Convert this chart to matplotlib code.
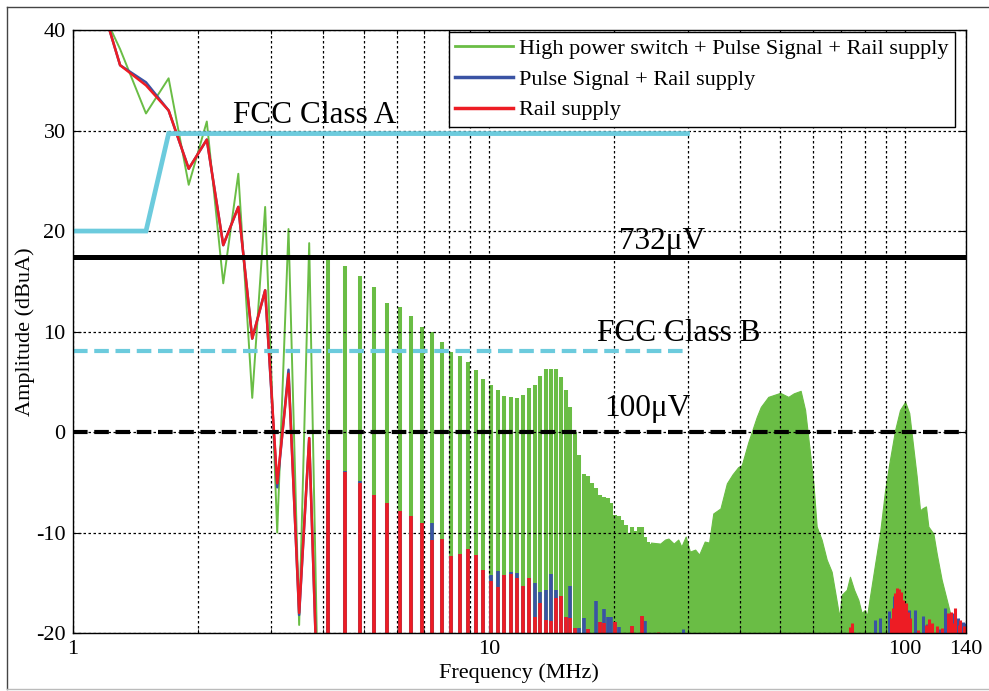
import matplotlib.pyplot as plt
from matplotlib.lines import Line2D
from matplotlib.ticker import NullFormatter

plt.rcParams['font.family'] = ['Liberation Serif', 'DejaVu Serif']
plt.rcParams['axes.unicode_minus'] = False

# --- data (MHz, dBuA) ---
# low band trace, sampled every 0.2 MHz
low_freq = [1.1, 1.3, 1.5, 1.7, 1.9, 2.1, 2.3, 2.5, 2.7, 2.9, 3.1, 3.3, 3.5, 3.7, 3.9]
green_low = [44.5, 38.1, 31.7, 35.2, 24.6, 30.9, 14.8, 25.7, 3.4, 22.4, -10.0, 20.2, -19.2, 18.8, -30.0]
blue_low = [46.5, 36.5, 34.8, 32.0, 26.2, 29.1, 18.6, 22.4, 9.3, 14.1, -5.5, 6.2, -18.2, -0.6, -30.0]
red_low = [46.5, 36.5, 34.5, 32.0, 26.2, 29.1, 18.6, 22.4, 9.3, 14.1, -5.1, 5.8, -18.0, -0.6, -30.0]

# harmonic lines 4.1 .. 24.5 MHz
harm_freq = [4.1, 4.5, 4.9, 5.3, 5.7, 6.1, 6.5, 6.9, 7.3, 7.7, 8.1, 8.5, 8.9, 9.3, 9.7,
             10.1, 10.5, 10.9, 11.3, 11.7, 12.1, 12.5, 12.9, 13.3, 13.7, 14.1, 14.5, 14.9,
             15.3, 15.7, 16.1, 16.5, 16.9, 17.3, 17.7, 18.1, 18.5, 18.9, 19.3, 19.7, 20.1,
             20.5, 20.9, 21.3, 21.7, 22.1, 22.5, 22.9, 23.3, 23.7, 24.1, 24.5]
green_harm = [17.1, 16.5, 15.5, 14.4, 12.8, 12.4, 11.5, 10.5, 10.0, 9.0, 8.0, 7.6, 7.0, 6.2, 5.3,
              4.7, 4.2, 3.6, 3.5, 3.4, 3.7, 4.4, 4.7, 5.6, 6.3, 6.3, 6.3, 5.5,
              4.2, 2.5, 0.0, -2.3, -4.2, -4.4, -5.1, -5.6, -6.3, -6.5, -6.6, -7.1, -8.3,
              -8.4, -8.8, -9.3, -10.0, -9.4, -9.8, -9.4, -9.4, -10.4, -10.9, -11.1]
blue_harm = [-2.8, -3.9, -4.9, -6.3, -7.1, -7.9, -8.4, -9.1, -9.1, -10.6, -12.3, -12.1, -11.6, -12.2, -13.7,
             -14.2, -13.8, -14.2, -13.9, -14.0, -15.3, -14.5, -15.0, -15.9, -15.7, -14.1, -15.7, -16.3,
             -18.4, -15.3, -19.5, -19.5, -18.5, -19.6, -25, -16.8, -18.9, -17.6, -18.4, -18.4, -18.9,
             -19.4, -25, -25, -25, -19.3, -25, -25, -18.3, -18.8, -25, -25]
red_harm = [-2.8, -4.0, -5.1, -6.3, -7.1, -7.9, -8.4, -9.1, -10.7, -10.6, -12.3, -12.1, -11.6, -12.2, -13.7,
            -14.8, -15.4, -14.2, -14.1, -14.5, -15.3, -14.5, -18.4, -17.0, -18.7, -18.8, -16.5, -16.3,
            -18.4, -18.5, -19.5, -25, -25, -19.6, -25, -25, -18.9, -19.0, -25, -25, -18.9,
            -25, -25, -25, -25, -19.3, -25, -25, -18.3, -25, -25, -25]

# broadband envelope of the green trace above 24.5 MHz
env_freq = [24.5, 25.8, 26.5, 27.0, 27.8, 28.5, 29.0, 29.7, 30.4, 31.3, 32.0, 33.0, 33.8, 34.6,
            36.0, 37.3, 38.5, 39.7, 40.5, 42.0, 44.0, 45.0, 46.9, 50.1, 52.4, 54.0, 56.1, 57.5,
            58.5, 60.2, 61.3, 63.0, 64.8, 66.6, 68.2, 69.5, 70.4, 72.4, 73.7, 75.4, 77.2, 78.6,
            80.1, 81.0, 82.3, 84.7, 87.0, 89.5, 91.9, 94.6, 97.2, 100.0, 102.3, 104.6, 106.6,
            108.6, 110.0, 112.2, 113.7, 116.9, 119.1, 122.4, 125.9, 128.2, 131.8, 138.0, 140.0]
green_env = [-11.0, -11.1, -10.7, -10.6, -11.1, -10.7, -11.4, -10.4, -11.9, -11.7, -12.2, -10.9, -11.0, -8.1,
             -7.6, -5.1, -4.2, -3.5, -3.3, -1.0, 1.5, 2.5, 3.5, 3.9, 3.5, 3.85, 4.1, 2.2,
             -0.5, -5.1, -9.4, -10.7, -12.7, -13.9, -16.4, -18.4, -16.2, -15.7, -14.4, -15.7, -16.7, -18.0,
             -17.7, -18.3, -16.4, -13.1, -10.1, -5.8, -2.8, 0.2, 2.2, 3.0, 1.9, -1.5, -4.4,
             -7.8, -7.6, -7.4, -9.4, -10.1, -12.1, -14.7, -16.7, -18.0, -19.0, -19.9, -20.0]

# sparse red / blue lines in the upper band
blue_hi_freq = [29.2, 84.7, 86.8, 91.5, 94.0, 102.3, 105.4, 110.5, 113.0, 121.0, 125.0, 129.6, 133.9, 137.6, 139.5]
blue_hi = [-19.6, -18.7, -18.5, -17.8, -16.3, -17.7, -17.7, -18.3, -19.1, -19.6, -17.5, -18.0, -18.5, -18.9, -19.0]
red_hi_freq = [25.5, 73.6, 74.4, 92.5, 93.3, 94.5, 95.5, 96.4, 97.6, 99.0, 100.5, 101.8, 103.0, 107.5,
               112.0, 114.3, 116.0, 119.6, 122.6, 126.7, 128.6, 130.5, 132.1, 134.5, 135.6, 138.5]
red_hi = [-19.9, -19.4, -19.0, -18.5, -17.5, -16.0, -15.5, -15.6, -15.9, -16.7, -17.0, -17.9, -18.5, -19.7,
          -19.2, -18.6, -19.0, -19.3, -19.5, -18.0, -17.9, -19.0, -17.5, -19.2, -18.7, -19.3]

# limits
classA_freq = [1, 1.5, 1.7, 30]
classA = [20, 20, 29.7, 29.7]
classB_freq = [1, 30]
classB = [8.1, 8.1]
lim_732uV = 17.4
lim_100uV = 0.0

labels = ['High power switch + Pulse Signal + Rail supply', 'Pulse Signal + Rail supply', 'Rail supply']

GREEN = '#6abd45'
BLUE = '#3a53a4'
RED = '#ed1c24'
CYAN = '#6ccbdd'

fig = plt.figure(figsize=(9.89, 6.91), dpi=100)
ax = fig.add_axes([0.0735, 0.0839, 0.9032, 0.8726])
ax.set_xscale('log')

# green
ax.plot(low_freq, green_low, color=GREEN, lw=1.4, zorder=2)
ax.vlines(harm_freq, -21, green_harm, color=GREEN, lw=2.9, capstyle='butt', zorder=2)
ax.fill_between(env_freq, -21, green_env, color=GREEN, lw=0.8, zorder=2)

# blue
ax.plot(low_freq, blue_low, color=BLUE, lw=1.8, zorder=3)
ax.vlines(harm_freq, -21, blue_harm, color=BLUE, lw=2.6, capstyle='butt', zorder=3)
ax.vlines(blue_hi_freq, -21, blue_hi, color=BLUE, lw=2.2, capstyle='butt', zorder=3)

# red
ax.plot(low_freq, red_low, color=RED, lw=1.8, zorder=4)
ax.vlines(harm_freq, -21, red_harm, color=RED, lw=2.6, capstyle='butt', zorder=4)
ax.vlines(red_hi_freq, -21, red_hi, color=RED, lw=2.2, capstyle='butt', zorder=4)

# limit lines
ax.plot(classA_freq, classA, color=CYAN, lw=3.4, zorder=5, solid_joinstyle='miter')
ax.plot(classB_freq, classB, color=CYAN, lw=3.0, ls=(0, (3.5, 1.6)), zorder=5)
ax.axhline(lim_732uV, color='black', lw=3.6, zorder=5)
ax.axhline(lim_100uV, color='black', lw=3.0, ls=(0, (3.5, 1.6)), zorder=5)

ax.text(3.82, 30.8, 'FCC Class A', fontsize=22.5, ha='center', va='baseline', zorder=6)
ax.text(26.1, 18.2, '732\u03bcV', fontsize=22.5, ha='center', va='baseline', zorder=6)
ax.text(28.6, 9.05, 'FCC Class B', fontsize=22.5, ha='center', va='baseline', zorder=6)
ax.text(24.0, 1.6, '100\u03bcV', fontsize=22.5, ha='center', va='baseline', zorder=6)

ax.set_xlim(1, 140)
ax.set_ylim(-20, 40)
ax.set_xticks([1, 10, 100, 140], ['1', '10', '100', '140'])
ax.xaxis.set_minor_formatter(NullFormatter())
ax.set_yticks([-20, -10, 0, 10, 20, 30, 40])
ax.tick_params(which='both', direction='in', top=True, right=True, labelsize=16)
ax.tick_params(which='major', length=6, pad=5)
ax.tick_params(which='minor', length=3)
ax.grid(True, which='major', color='black', lw=0.9, ls=(0, (2, 2)), zorder=7)
ax.grid(True, which='minor', axis='x', color='black', lw=0.9, ls=(0, (2, 2)), zorder=7)
ax.set_axisbelow(False)
for s in ax.spines.values():
    s.set_linewidth(1.0)
    s.set_zorder(8)

ax.set_xlabel('Frequency (MHz)', fontsize=16, labelpad=3)
ax.set_ylabel('Amplitude (dBuA)', fontsize=16, labelpad=1)

legend_lines = [Line2D([], [], color=GREEN, lw=2), Line2D([], [], color=BLUE, lw=2.5),
                Line2D([], [], color=RED, lw=2.5)]
leg = ax.legend(legend_lines, labels, loc='upper right', bbox_to_anchor=(0.9877, 0.9967),
                borderaxespad=0, fontsize=16, fancybox=False, framealpha=1, edgecolor='black',
                handlelength=2.6, handletextpad=0.25, labelspacing=0.45, borderpad=0.3)
leg.get_frame().set_linewidth(1.0)
leg.set_zorder(10)

# outer frame of the picture
fig.add_artist(Line2D([7 / 989, 7 / 989], [2 / 691, 1 - 7 / 691], color='#444444', lw=1.0))
fig.add_artist(Line2D([7 / 989, 1], [1 - 7 / 691, 1 - 7 / 691], color='#444444', lw=1.0))
fig.add_artist(Line2D([7 / 989, 1], [2 / 691, 2 / 691], color='#bbbbbb', lw=1.0))

fig.savefig('out.png', dpi=100)
